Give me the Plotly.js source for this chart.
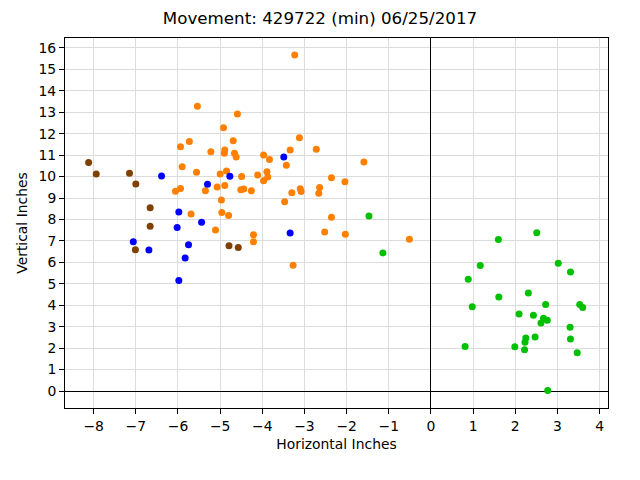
<!DOCTYPE html>
<html>
<head>
<meta charset="utf-8">
<script src="https://cdn.plot.ly/plotly-3.0.1.min.js"></script>
<style>html,body{margin:0;padding:0;background:#fff;}#chart{width:640px;height:480px;}</style>
</head>
<body>
<div id="chart"></div>
<script>
const orangeX = [-3.23,-5.54,-4.59,-4.92,-3.12,-4.69,-5.73,-5.94,-3.34,-2.72,-5.22,-4.89,-4.90,-4.66,-4.62,-3.97,-3.83,-1.59,-3.43,-5.90,-5.56,-5.00,-4.85,-3.89,-4.49,-4.11,-3.87,-3.97,-2.36,-2.04,-6.06,-5.94,-5.35,-5.07,-4.89,-4.51,-4.44,-4.26,-3.30,-3.10,-3.08,-2.64,-2.66,-4.97,-3.47,-5.69,-4.96,-4.80,-2.36,-5.11,-2.52,-4.21,-2.03,-4.21,-0.51,-3.27];
const orangeY = [15.67,13.28,12.92,12.28,11.81,11.67,11.64,11.39,11.24,11.27,11.16,11.24,11.09,11.09,10.91,11.00,10.79,10.68,10.53,10.46,10.20,10.12,10.26,10.23,10.00,10.07,9.98,9.81,9.95,9.76,9.31,9.44,9.34,9.51,9.58,9.39,9.42,9.34,9.24,9.43,9.30,9.49,9.22,8.91,8.83,8.26,8.32,8.18,8.10,7.51,7.42,7.29,7.31,6.96,7.08,5.86];
const brownX = [-8.12,-7.94,-7.15,-7.00,-6.66,-6.66,-7.01,-4.79,-4.57];
const brownY = [10.65,10.12,10.15,9.65,8.55,7.68,6.59,6.78,6.69];
const blueX = [-6.39,-4.77,-5.30,-5.98,-6.02,-5.44,-7.06,-6.69,-5.75,-5.83,-5.98,-3.49,-3.34];
const blueY = [10.03,10.01,9.64,8.35,7.63,7.87,6.96,6.58,6.82,6.20,5.16,10.91,7.37];
const greenX = [1.60,2.51,3.02,3.31,1.17,0.885,1.61,2.31,0.98,2.72,3.53,3.60,2.09,2.43,2.67,2.76,2.61,3.30,2.47,2.25,2.23,3.31,0.81,1.99,2.22,3.47,2.77,-1.47,-1.14];
const greenY = [7.06,7.38,5.96,5.55,5.85,5.21,4.38,4.57,3.93,4.03,4.03,3.89,3.59,3.53,3.39,3.30,3.17,2.97,2.52,2.47,2.27,2.43,2.08,2.07,1.93,1.79,0.03,8.16,6.44];
const xTicks = [-8,-7,-6,-5,-4,-3,-2,-1,0,1,2,3,4];
const yTicks = [0,1,2,3,4,5,6,7,8,9,10,11,12,13,14,15,16];

function tr(x, y, color) {
  return {x: x, y: y, type: 'scatter', mode: 'markers', marker: {color: color, size: 7, line: {width: 0}}, hoverinfo: 'skip', showlegend: false};
}
const font = {family: 'DejaVu Sans, sans-serif', color: '#000'};
const axisCommon = {
  showgrid: true, gridcolor: '#dcdcdc', gridwidth: 1,
  zeroline: true, zerolinecolor: '#000', zerolinewidth: 1,
  showline: true, linecolor: '#000', linewidth: 1, mirror: true,
  ticks: 'outside', ticklen: 5, tickwidth: 1, tickcolor: '#000',
  tickfont: {family: font.family, size: 13.9, color: '#000'},
  tickmode: 'array', automargin: false
};
const layout = {
  width: 640, height: 480,
  paper_bgcolor: '#fff', plot_bgcolor: '#fff',
  margin: {l: 65, r: 32, t: 38, b: 72},
  font: font,
  title: {text: 'Movement: 429722 (min) 06/25/2017', x: 0.5, xanchor: 'center', xref: 'container', y: 0.9625, yanchor: 'middle', yref: 'container', font: {family: font.family, size: 16.7, color: '#000'}},
  xaxis: Object.assign({}, axisCommon, {range: [-8.68, 4.2], tickvals: xTicks, ticktext: xTicks.map(v => v < 0 ? '\u2212' + Math.abs(v) : String(v)), title: {text: 'Horizontal Inches', font: {family: font.family, size: 13.9, color: '#000'}, standoff: 6}}),
  yaxis: Object.assign({}, axisCommon, {range: [-0.79, 16.46], tickvals: yTicks, ticktext: yTicks.map(String), title: {text: 'Vertical Inches', font: {family: font.family, size: 13.9, color: '#000'}, standoff: 7}}),
  hovermode: false
};
Plotly.newPlot('chart', [tr(orangeX, orangeY, '#ff8000'), tr(brownX, brownY, '#804000'), tr(blueX, blueY, '#0000ff'), tr(greenX, greenY, '#00c000')], layout, {displayModeBar: false, staticPlot: true});
</script>
</body>
</html>
